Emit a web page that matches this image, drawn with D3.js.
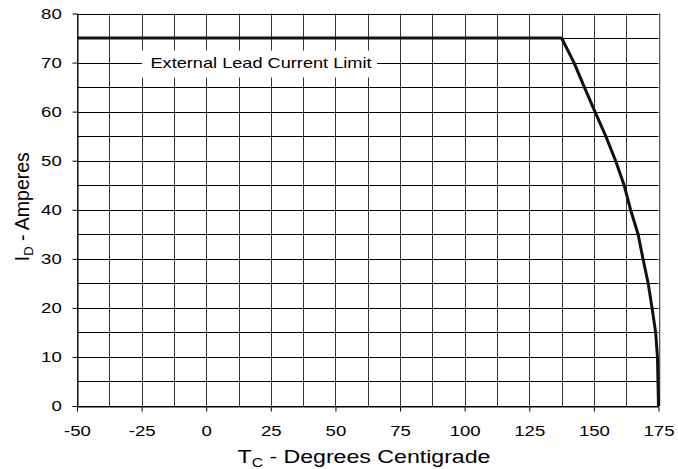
<!DOCTYPE html>
<html>
<head>
<meta charset="utf-8">
<script src="https://cdn.jsdelivr.net/npm/d3@7"></script>
<style>
  body { margin: 0; background: #fff; }
  text { font-family: "Liberation Sans", Arial, sans-serif; fill: #000; }
</style>
</head>
<body>
<div id="chart"></div>
<script>
// data
const xTicks = [-50, -25, 0, 25, 50, 75, 100, 125, 150, 175];
const yTicks = [0, 10, 20, 30, 40, 50, 60, 70, 80];
const tempC = [-50, 137.5, 142.3, 146.3, 150.4, 154.6, 158.4, 161.7, 164.2, 167.1, 169.0, 171.0, 172.5, 173.9, 174.6, 175];
const amps  = [75, 75, 70, 65, 60, 55, 50, 45, 40, 35, 30, 25, 20, 15, 10, 0];
const labelText = "External Lead Current Limit";

const width = 678, height = 469;
const margin = {left: 77, top: 13.5, right: 19.5, bottom: 63};
const stretch = 1.24; // reference text is wider than plain Arial

const svg = d3.select("#chart").append("svg")
    .attr("width", width)
    .attr("height", height);

const x = d3.scaleLinear().domain([-50, 175]).range([margin.left, width - margin.right]);
const y = d3.scaleLinear().domain([0, 80]).range([height - margin.bottom, margin.top]);

// grid, every 12.5 degrees and every 5 amps
const xGrid = d3.range(-50, 175.1, 12.5);
const yGrid = d3.range(0, 80.1, 5);

svg.append("g")
    .selectAll("line")
    .data(xGrid)
    .join("line")
    .attr("x1", d => Math.round(x(d)) + 0.5)
    .attr("x2", d => Math.round(x(d)) + 0.5)
    .attr("y1", y(80))
    .attr("y2", y(0))
    .attr("stroke", "#333")
    .attr("stroke-width", 1);

svg.append("g")
    .selectAll("line")
    .data(yGrid)
    .join("line")
    .attr("x1", x(-50))
    .attr("x2", x(175))
    .attr("y1", d => Math.round(y(d)) + 0.5)
    .attr("y2", d => Math.round(y(d)) + 0.5)
    .attr("stroke", "#000")
    .attr("stroke-width", 1);

// axes
svg.append("g")
    .attr("transform", `translate(0, ${Math.round(y(0)) + 0.5})`)
    .call(d3.axisBottom(x).tickValues(xTicks).tickFormat(d => String(d))
        .tickSize(5).tickPadding(14).tickSizeOuter(0))
    .call(g => g.select(".domain").attr("stroke", "#000"))
    .call(g => g.selectAll(".tick line").attr("stroke", "#000"))
    .call(g => g.selectAll("text")
        .attr("font-size", 15)
        .attr("fill", "#000")
        .attr("font-family", "'Liberation Sans', Arial, sans-serif")
        .attr("transform", `scale(${stretch},1)`));

svg.append("g")
    .attr("transform", `translate(${Math.round(x(-50)) + 0.5}, 0)`)
    .call(d3.axisLeft(y).tickValues(yTicks).tickFormat(d => String(d))
        .tickSize(5).tickPadding(7.7).tickSizeOuter(0))
    .call(g => g.select(".domain").attr("stroke", "#000"))
    .call(g => g.selectAll(".tick line").attr("stroke", "#000"))
    .call(g => g.selectAll("text")
        .attr("font-size", 15)
        .attr("fill", "#000")
        .attr("font-family", "'Liberation Sans', Arial, sans-serif")
        .attr("transform", `scale(${stretch},1)`));

// right border with its light shadow
svg.append("line")
    .attr("x1", Math.round(x(175)) + 0.5).attr("x2", Math.round(x(175)) + 0.5)
    .attr("y1", y(80)).attr("y2", y(0))
    .attr("stroke", "#555");
svg.append("line")
    .attr("x1", Math.round(x(175)) + 1.5).attr("x2", Math.round(x(175)) + 1.5)
    .attr("y1", y(80)).attr("y2", y(0))
    .attr("stroke", "#ccc");

// label box
const ly = y(70);
svg.append("rect")
    .attr("x", 142)
    .attr("y", ly - 12)
    .attr("width", 235)
    .attr("height", 27)
    .attr("fill", "#fff");
svg.append("text")
    .attr("transform", `translate(261, ${ly + 5.6}) scale(1.28,1)`)
    .attr("text-anchor", "middle")
    .attr("font-size", 14.2)
    .text(labelText);

// derating curve
const pts = tempC.map((t, i) => [t, amps[i]]);
svg.append("path")
    .datum(pts)
    .attr("d", d3.line().x(d => x(d[0])).y(d => y(d[1])))
    .attr("fill", "none")
    .attr("stroke", "#111")
    .attr("stroke-width", 3)
    .attr("stroke-linejoin", "round");

// axis titles
const xt = svg.append("text")
    .attr("transform", `translate(364, 463) scale(1.25,1)`)
    .attr("text-anchor", "middle")
    .attr("font-size", 18.5);
xt.append("tspan").text("T");
xt.append("tspan").attr("font-size", 12.5).attr("dy", 4).text("C");
xt.append("tspan").attr("dy", -4).text(" - Degrees Centigrade");

const yt = svg.append("text")
    .attr("transform", `translate(28.5, 206.7) rotate(-90)`)
    .attr("text-anchor", "middle")
    .attr("font-size", 19.5);
yt.append("tspan").text("I");
yt.append("tspan").attr("font-size", 13).attr("dy", 4).text("D");
yt.append("tspan").attr("dy", -4).text(" - Amperes");
</script>
</body>
</html>
